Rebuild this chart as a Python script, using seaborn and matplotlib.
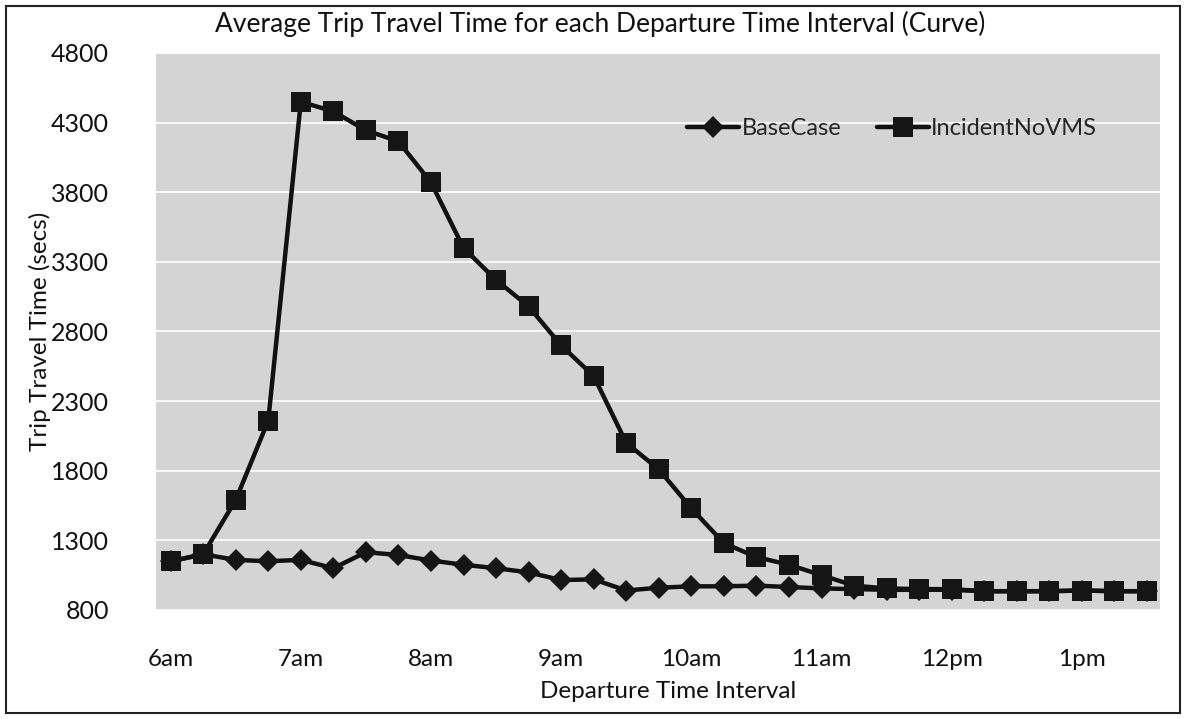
import matplotlib
matplotlib.use("Agg")
import matplotlib.pyplot as plt
from matplotlib.patches import Rectangle
import seaborn as sns
import pandas as pd

# Departure intervals: every 15 minutes from 6:00am to 1:30pm
intervals = list(range(31))
tick_positions = [0, 4, 8, 12, 16, 20, 24, 28]
tick_labels = ["6am", "7am", "8am", "9am", "10am", "11am", "12pm", "1pm"]

base_case = [1150, 1200, 1160, 1150, 1160, 1100, 1215, 1195, 1155, 1125,
             1100, 1070, 1015, 1020, 940, 960, 970, 970, 975, 965,
             955, 950, 945, 945, 945, 935, 935, 935, 940, 935, 935]
incident_no_vms = [1150, 1200, 1590, 2160, 4450, 4380, 4245, 4165, 3870, 3400,
                   3170, 2980, 2700, 2480, 2000, 1810, 1530, 1280, 1180, 1125,
                   1050, 975, 955, 950, 950, 935, 935, 935, 940, 935, 935]

series_names = ["BaseCase", "IncidentNoVMS"]
y_ticks = [800, 1300, 1800, 2300, 2800, 3300, 3800, 4300, 4800]

df = pd.DataFrame({
    "interval": intervals * 2,
    "time": base_case + incident_no_vms,
    "series": [series_names[0]] * len(intervals) + [series_names[1]] * len(intervals),
})

sns.set_theme(style="white")
plt.rcParams["font.family"] = ["Lato", "DejaVu Sans"]

fig = plt.figure(figsize=(11.88, 7.19), dpi=100)
ax = fig.add_axes([0.1313, 0.1516, 0.8451, 0.7747])
ax.set_facecolor("#d4d4d4")

sns.lineplot(
    data=df, x="interval", y="time", hue="series", style="series",
    palette={"BaseCase": "#111111", "IncidentNoVMS": "#111111"},
    markers={"BaseCase": "D", "IncidentNoVMS": "s"},
    dashes=False, linewidth=3.2, ax=ax, legend=True,
)
for line in ax.lines:
    if line.get_marker() == "D":
        line.set_markersize(11)
    else:
        line.set_markersize(15)
    line.set_markeredgewidth(0)
    line.set_markerfacecolor("#151515")

ax.set_xlim(-0.45, 30.4)
ax.set_ylim(800, 4800)
ax.set_yticks(y_ticks)
ax.set_yticklabels([str(v) for v in y_ticks])
ax.set_xticks(tick_positions)
ax.set_xticklabels(tick_labels)
ax.yaxis.grid(True, color="white", linewidth=1.2)
ax.xaxis.grid(False)
ax.set_axisbelow(True)
for s in ax.spines.values():
    s.set_visible(False)

ax.tick_params(axis="y", labelsize=18, pad=34, colors="#111111", length=0)
ax.tick_params(axis="x", labelsize=17.5, pad=28, colors="#111111", length=0)

ax.set_xlabel("Departure Time Interval", fontsize=17.5, color="#111111")
ax.set_ylabel("Trip Travel Time (secs)", fontsize=17.5, color="#111111")
ax.xaxis.set_label_coords(0.51, -0.127)
ax.yaxis.set_label_coords(-0.105, 0.5)

fig.text(0.505, 0.967, "Average Trip Travel Time for each Departure Time Interval (Curve)",
         ha="center", va="center", fontsize=19, color="#111111")

handles, labels = ax.get_legend_handles_labels()
leg = ax.legend(handles, labels, loc="upper left", bbox_to_anchor=(0.52, 0.9),
                ncol=2, frameon=False, fontsize=17, handlelength=2.2,
                handletextpad=0.1, columnspacing=1.5, borderaxespad=0)
for h in leg.legend_handles:
    h.set_linewidth(3.2)
    h.set_color("#111111")
    h.set_markerfacecolor("#151515")

fig.patches.append(Rectangle((0.005, 0.008), 0.988, 0.984, transform=fig.transFigure,
                             fill=False, edgecolor="#222222", linewidth=1.5))

fig.savefig("out.png", dpi=100, facecolor="white")
